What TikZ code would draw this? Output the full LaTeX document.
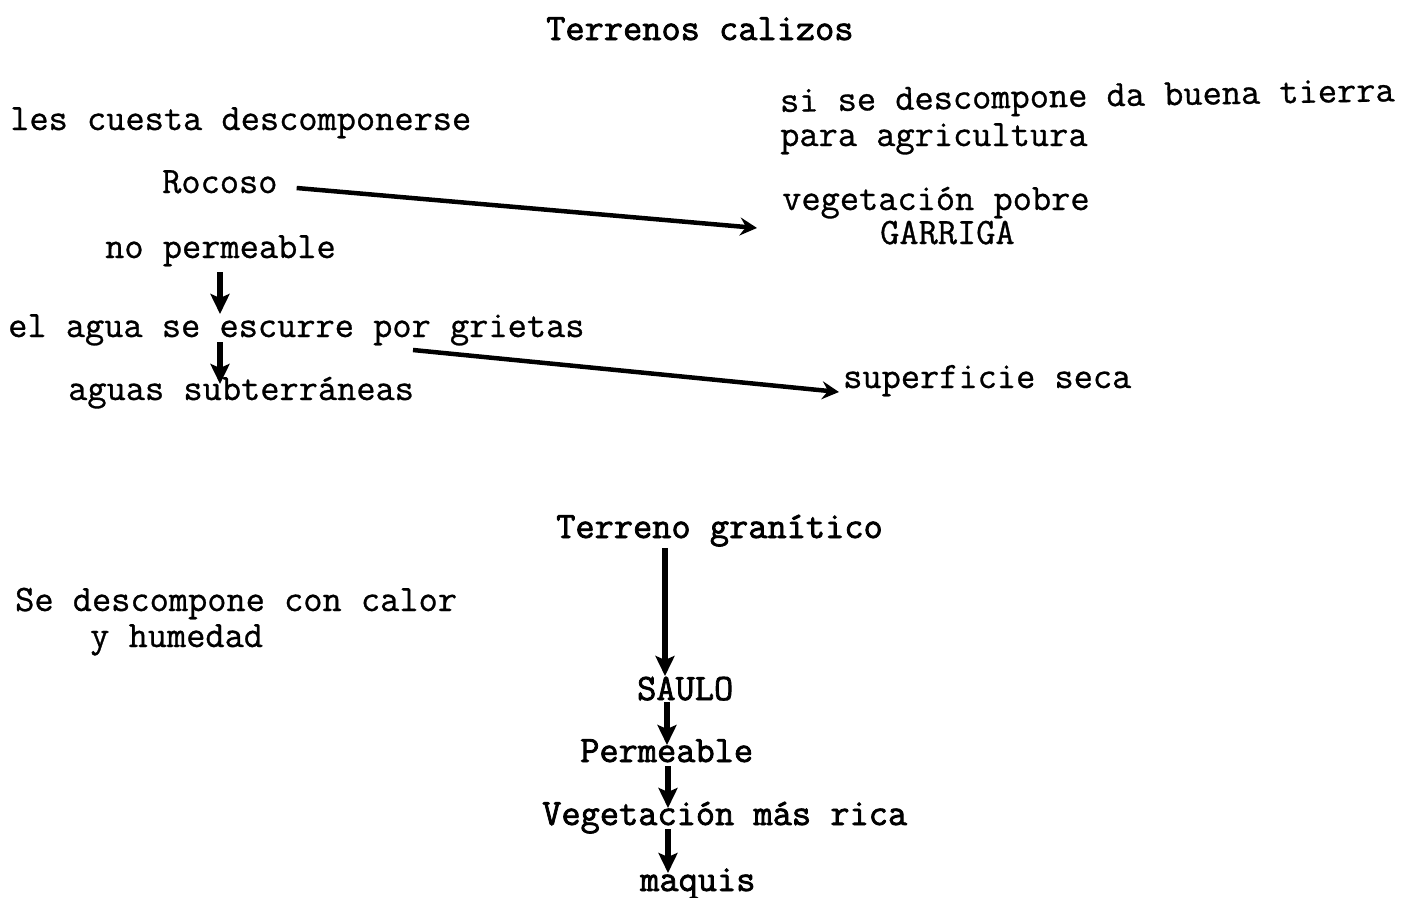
\documentclass[tikz,border=0pt]{standalone}
\usepackage{fontspec}
\newfontfamily\tw[FakeBold=0.8]{Latin Modern Mono}
\newfontfamily\twb[FakeBold=2]{Latin Modern Mono}
\usetikzlibrary{arrows.meta,calc}
\begin{document}
\begin{tikzpicture}[x=1pt,y=-1pt,
  lbl/.style={anchor=base west,inner sep=0pt,font=\tw\fontsize{37.3}{37.3}\selectfont},
  lblb/.style={anchor=base west,inner sep=0pt,font=\twb\fontsize{37.3}{37.3}\selectfont},
  arr/.style={line width=6pt,-{Stealth[length=20pt,width=19pt,inset=4pt]}},
  darr/.style={line width=4.5pt,-{Stealth[length=17pt,width=18pt,inset=6pt]}}]
\useasboundingbox (0,0) rectangle (1403,897);
\node[lblb] (t1) at (546,40) {Terrenos calizos};
\node[lbl] (a1) at (10,130) {les cuesta descomponerse};
\node[lbl,rotate=1] (b1) at (780,112) {si se descompone da buena tierra};
\node[lbl] (b2) at (780,146) {para agricultura};
\node[lbl] (roc) at (162,193) {Rocoso};
\node[lbl] (veg) at (782,210) {vegetación pobre};
\node[lbl] (gar) at (880,244) {GARRIGA};
\node[lbl] (nop) at (105,258) {no permeable};
\node[lbl] (agu) at (8,337) {el agua se escurre por grietas};
\node[lbl] (sub) at (68,400) {aguas subterráneas};
\node[lbl] (sup) at (843,388) {superficie seca};
\node[lblb] (gra) at (556,538) {Terreno granítico};
\node[lbl] (sed) at (15,611) {Se descompone con calor};
\node[lbl] (hum) at (90,647) {y humedad};
\node[lblb] (sau) at (637,700) {SAULO};
\node[lblb] (per) at (580,762) {Permeable};
\node[lblb] (vmr) at (542,825) {Vegetación más rica};
\node[lblb] (maq) at (640,891) {maquis};
% connector end points
\coordinate (r1) at ($(roc.base east)+(19,-5)$);
\coordinate (r2) at ($(veg.base west)+(-25,18)$);
\coordinate (n1) at (220,272);
\coordinate (n2) at (220,314);
\coordinate (e1) at (220,342);
\coordinate (e2) at (220,384);
\coordinate (g1) at (413,350);
\coordinate (g2) at ($(sup.base west)+(-4,4)$);
\coordinate (k1) at (665,548);
\coordinate (k2) at (665,676);
\coordinate (s1) at (667,702);
\coordinate (s2) at (667,745);
\coordinate (p1) at (668,766);
\coordinate (p2) at (668,808);
\coordinate (v1) at (668,829);
\coordinate (v2) at (668,873);
\draw[darr] (r1) -- (r2);
\draw[darr] (g1) -- (g2);
\draw[arr] (n1) -- (n2);
\draw[arr] (e1) -- (e2);
\draw[arr] (k1) -- (k2);
\draw[arr] (s1) -- (s2);
\draw[arr] (p1) -- (p2);
\draw[arr] (v1) -- (v2);
\end{tikzpicture}
\end{document}
